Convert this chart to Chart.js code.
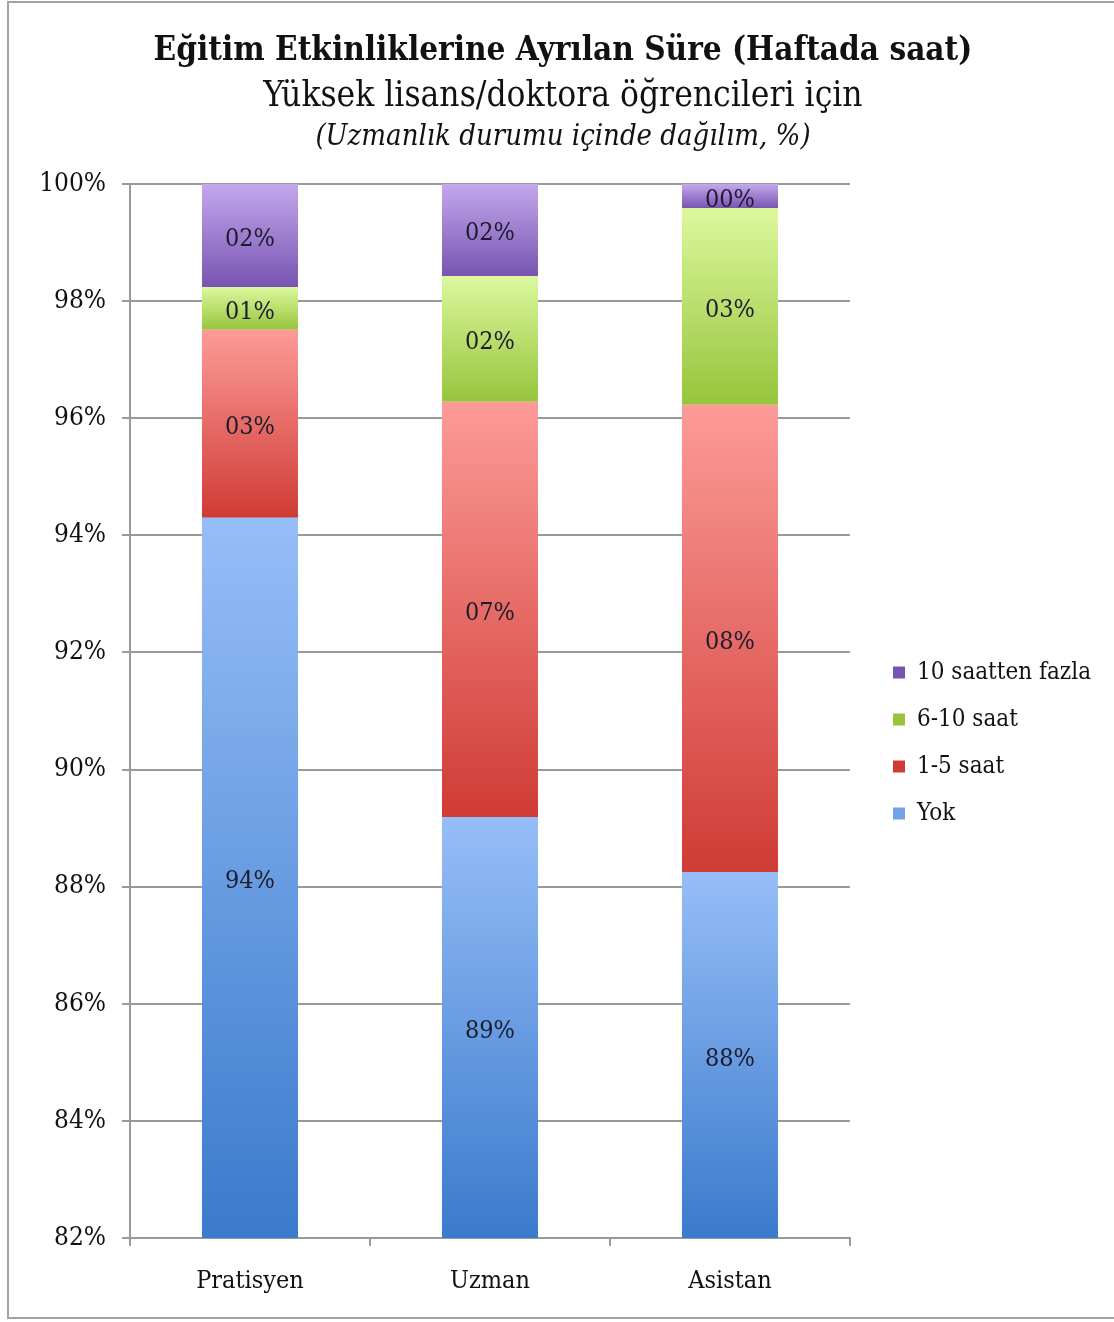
<!DOCTYPE html>
<html>
<head>
<meta charset="utf-8">
<script src="https://cdn.jsdelivr.net/npm/chart.js@4/dist/chart.umd.min.js"></script>
<style>
  html, body { margin: 0; padding: 0; background: #fff; }
  #wrap { position: relative; width: 1114px; height: 1322px; overflow: hidden; }
  #frame { position: absolute; left: 7px; top: 1px; width: 1120px; height: 1318px; border: 2px solid #a3a3a3; box-sizing: border-box; }
  canvas { position: absolute; left: 0; top: 0; }
  .t { position: absolute; left: 8px; width: 1110px; text-align: center; color: #111; font-family: "DejaVu Serif Condensed", "DejaVu Serif", serif; font-stretch: condensed; white-space: nowrap; }
  #t1 { top: 29px; font-size: 33px; font-weight: bold; line-height: 40px; }
  #t2 { top: 74px; font-size: 35px; line-height: 40px; }
  #t3 { top: 118px; font-size: 29px; font-style: italic; line-height: 34px; }
</style>
</head>
<body>
<div id="wrap">
  <div id="frame"></div>
  <canvas id="c" width="1114" height="1322"></canvas>
  <div class="t" id="t1">Eğitim Etkinliklerine Ayrılan Süre (Haftada saat)</div>
  <div class="t" id="t2">Yüksek lisans/doktora öğrencileri için</div>
  <div class="t" id="t3">(Uzmanlık durumu içinde dağılım, %)</div>
</div>
<script>
// ---- data ----
const categories = ["Pratisyen", "Uzman", "Asistan"];
const seriesNames = ["Yok", "1-5 saat", "6-10 saat", "10 saatten fazla"];
const yok      = [94.30, 89.19, 88.25];
const saat1_5  = [3.21, 7.09, 7.98];
const saat6_10 = [0.73, 2.15, 3.36];
const fazla10  = [1.76, 1.57, 0.41];
const yTickMin = 82, yTickMax = 100, yTickStep = 2;

// ---- styles ----
const FONT = "'DejaVu Serif Condensed', 'DejaVu Serif', serif";
const palette = [
  { top: "#96bef8", bottom: "#3b7acb", solid: "#5b93dd" },
  { top: "#fc9b98", bottom: "#d03b35", solid: "#e05a55" },
  { top: "#dcf89d", bottom: "#96c53c", solid: "#a8d65a" },
  { top: "#c3a8ec", bottom: "#7854b2", solid: "#9b7fd0" }
];
const seriesValues = [yok, saat1_5, saat6_10, fazla10];

function segBounds(di, i) {
  let start = 0;
  for (let k = 0; k < di; k++) start += seriesValues[k][i];
  return [start, start + seriesValues[di][i]];
}

function gradientFill(ctx) {
  const p = palette[ctx.datasetIndex];
  if (ctx.type !== 'data') return p.solid;
  const chart = ctx.chart;
  const area = chart.chartArea;
  const ys = chart.scales.y;
  if (!area || !ys) return p.solid;
  const [s, e] = segBounds(ctx.datasetIndex, ctx.dataIndex);
  const yTop = Math.max(ys.getPixelForValue(e), area.top);
  const yBot = Math.min(ys.getPixelForValue(s), area.bottom);
  if (!isFinite(yTop) || !isFinite(yBot) || yBot - yTop < 1) return p.solid;
  const g = chart.ctx.createLinearGradient(0, yTop, 0, yBot);
  g.addColorStop(0, p.top);
  g.addColorStop(1, p.bottom);
  return g;
}

const datasets = seriesNames.map((name, di) => ({
  label: name,
  data: seriesValues[di],
  backgroundColor: gradientFill,
  borderWidth: 0,
  barPercentage: 0.4,
  categoryPercentage: 1.0
}));

const labelPlugin = {
  id: 'segLabels',
  afterDatasetsDraw(chart) {
    const c = chart.ctx;
    const area = chart.chartArea;
    c.save();
    c.font = "25px " + FONT;
    c.fillStyle = "#1c1c2c";
    c.textAlign = "center";
    c.textBaseline = "middle";
    chart.data.datasets.forEach((ds, di) => {
      const meta = chart.getDatasetMeta(di);
      meta.data.forEach((el, i) => {
        const v = ds.data[i];
        const top = Math.max(Math.min(el.y, el.base), area.top);
        const bot = Math.min(Math.max(el.y, el.base), area.bottom);
        const txt = String(Math.round(v)).padStart(2, '0') + '%';
        c.fillText(txt, el.x, (top + bot) / 2 + 4);
      });
    });
    c.restore();
  }
};

const legendShift = {
  id: 'legendShift',
  afterLayout(chart) {
    const lg = chart.legend;
    if (!lg) return;
    lg.left += 20; lg.right += 20;
    lg.top -= 10; lg.bottom -= 10;
  }
};

new Chart(document.getElementById('c'), {
  type: 'bar',
  data: { labels: categories, datasets },
  plugins: [labelPlugin, legendShift],
  options: {
    responsive: false,
    animation: false,
    devicePixelRatio: 1,
    layout: { padding: { top: 184, left: 8, right: 33, bottom: 0 } },
    plugins: {
      title: { display: false },
      tooltip: { enabled: false },
      legend: {
        position: 'right',
        reverse: true,
        labels: {
          boxWidth: 12, boxHeight: 12, padding: 23,
          color: "#111",
          font: { family: FONT, size: 24 }
        }
      }
    },
    scales: {
      x: {
        stacked: true,
        afterFit(s) { s.height = 84; },
        grid: { display: true, drawOnChartArea: false, drawTicks: true, tickLength: 8, offset: true, color: "#9a9a9a", lineWidth: 2 },
        border: { display: true, color: "#9a9a9a", width: 2 },
        ticks: { color: "#111", font: { family: FONT, size: 25 }, padding: 20 }
      },
      y: {
        stacked: true,
        min: yTickMin, max: yTickMax,
        afterFit(s) { s.width = 122; },
        grid: { color: "#9a9a9a", lineWidth: 2, tickLength: 8 },
        border: { display: true, color: "#9a9a9a", width: 2 },
        ticks: {
          stepSize: yTickStep,
          color: "#111",
          font: { family: FONT, size: 26 },
          padding: 16,
          callback: v => v + '%'
        }
      }
    }
  }
});
</script>
</body>
</html>
